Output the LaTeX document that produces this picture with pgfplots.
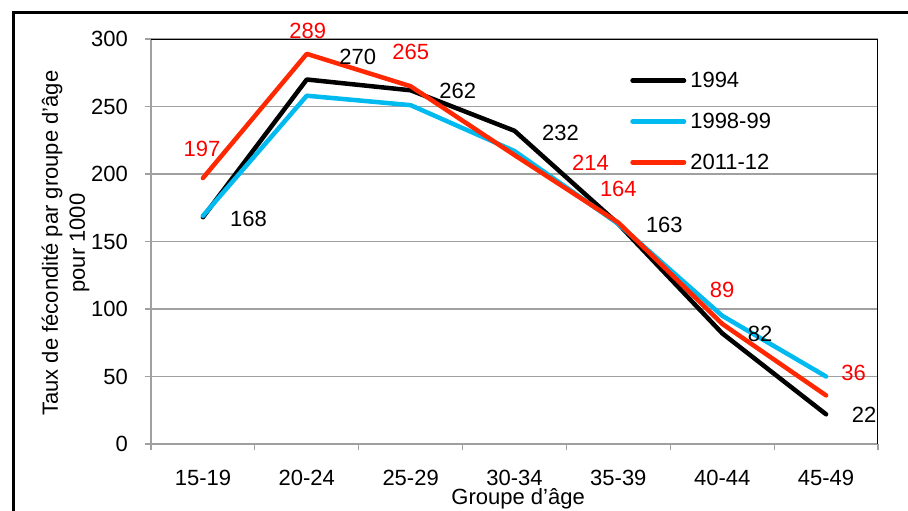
\documentclass[border=0pt]{standalone}
\usepackage{pgfplots}
\usepackage{pgfplotstable}
\pgfplotsset{compat=1.18}
\usepackage{fontspec}
\setmainfont{Liberation Sans}

\definecolor{serieBleu}{RGB}{0,186,240}
\definecolor{serieRouge}{RGB}{255,40,0}
\definecolor{etiqRouge}{RGB}{255,0,0}
\definecolor{grille}{RGB}{160,160,160}

\newcommand\grand{\fontsize{22}{27}\selectfont}

% x = groupe d'âge (0 = 15-19 ... 6 = 45-49), y = taux pour 1000,
% dx/dy = décalage de l'étiquette de valeur
\pgfplotstableread{
x y dx dy
0 168 45.5 -1.3
1 270 51 22.5
2 262 47 -1
3 232 46 -2
4 163 46 -1
5 82 38 -1
6 22 38 -1
}\tauxA

\pgfplotstableread{
x y
0 169
1 258
2 251
3 217
4 163
5 95
6 50
}\tauxB

\pgfplotstableread{
x y dx dy
0 197 -1 29
1 289 1 23
2 265 0 34
3 214 76 -8
4 164 0 34
5 89 0 34
6 36 27.5 22
}\tauxC

\begin{document}
\begin{tikzpicture}
\useasboundingbox (0pt,0pt) rectangle (908pt,-511pt);
\clip (0pt,0pt) rectangle (908pt,-511pt);
% cadre extérieur
\draw[line width=3pt] (13.3pt,-13pt) rectangle (1000pt,-600pt);
\begin{axis}[
  at={(151pt,-444pt)}, anchor=south west,
  scale only axis, width=727pt, height=405pt,
  xmin=-0.5, xmax=6.5, ymin=0, ymax=300,
  axis x line=bottom, axis y line=left,
  axis line style={-, grille, line width=1.2pt},
  xtick={0,...,6},
  xticklabels={15-19,20-24,25-29,30-34,35-39,40-44,45-49},
  minor xtick={-0.5,0.5,...,6.5},
  ytick={0,50,...,300},
  tick align=outside, major tick length=6pt, minor tick length=6pt,
  major x tick style={draw=none},
  minor x tick style={grille, line width=1.2pt},
  major y tick style={grille, line width=1.2pt},
  ymajorgrids, major grid style={grille, line width=1.2pt},
  tick label style={font=\grand, black},
  /pgf/number format/assume math mode=true,
  xticklabel style={inner sep=0pt, anchor=north, yshift=-20pt},
  yticklabel style={inner sep=0pt, anchor=east, xshift=-17pt},
  xlabel={Groupe d'âge},
  xlabel style={at={(axis description cs:0.505,-0.1086)}, anchor=north, inner sep=0pt, font=\grand},
  ylabel={Taux de fécondité par groupe d'âge\\pour 1000},
  ylabel style={at={(axis description cs:-0.1176,0.496)}, anchor=center, align=center, inner sep=0pt, font=\grand},
  legend style={at={(axis description cs:0.659,0.9185)}, anchor=north west,
    draw=none, fill=none, inner sep=0pt, row sep=24pt, column sep=4pt,
    nodes={inner sep=0pt, font=\grand}},
  legend cell align=left,
  legend image code/.code={\draw[#1, line cap=round] (2.25pt,0pt) -- (53.75pt,0pt);},
  every axis plot/.append style={line width=4.5pt, line cap=round, line join=round, mark=none},
]
\addplot[black] table[x=x,y=y] {\tauxA};
\addlegendentry{1994}
\addplot[serieBleu] table[x=x,y=y] {\tauxB};
\addlegendentry{1998-99}
\addplot[serieRouge] table[x=x,y=y] {\tauxC};
\addlegendentry{2011-12}

% étiquettes de valeur
\addplot[draw=none, forget plot, nodes near coords, point meta=explicit,
  visualization depends on={\thisrow{dx}\as\dx},
  visualization depends on={\thisrow{dy}\as\dy},
  nodes near coords style={anchor=center, inner sep=0pt, font=\grand, text=black, xshift=\dx, yshift=\dy}]
  table[x=x,y=y,meta=y] {\tauxA};
\addplot[draw=none, forget plot, nodes near coords, point meta=explicit,
  visualization depends on={\thisrow{dx}\as\dx},
  visualization depends on={\thisrow{dy}\as\dy},
  nodes near coords style={anchor=center, inner sep=0pt, font=\grand, text=etiqRouge, xshift=\dx, yshift=\dy}]
  table[x=x,y=y,meta=y] {\tauxC};

% bordure haute et droite de la zone de traçage
\draw[black, line width=1.2pt] (rel axis cs:0,1) -- (rel axis cs:1,1) -- (rel axis cs:1,0);
\end{axis}
\end{tikzpicture}
\end{document}
